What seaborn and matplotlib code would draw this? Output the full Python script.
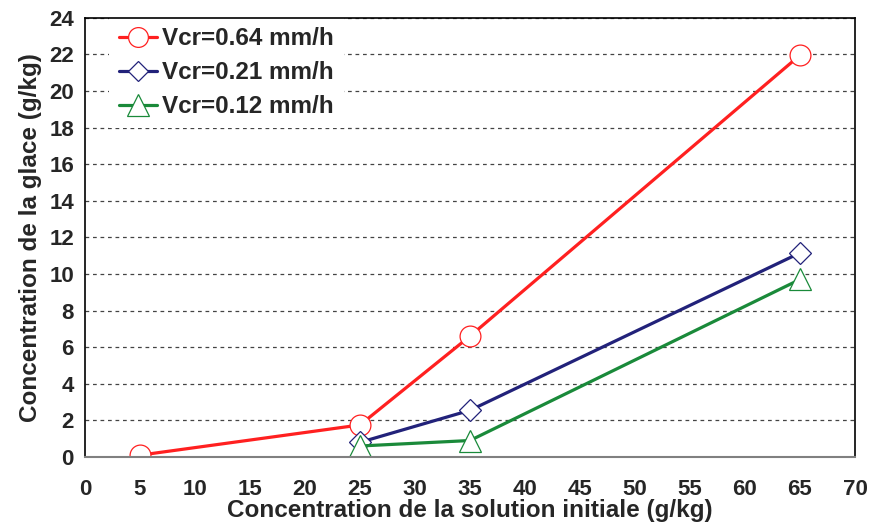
import numpy as np
import pandas as pd
import seaborn as sns
import matplotlib.pyplot as plt

# Valeurs
x_064 = [5, 25, 35, 65]
y_064 = [0.1, 1.75, 6.6, 21.95]
x_021 = [25, 35, 65]
y_021 = [0.8, 2.55, 11.15]
x_012 = [25, 35, 65]
y_012 = [0.6, 0.9, 9.7]

labels = ["Vcr=0.64 mm/h", "Vcr=0.21 mm/h", "Vcr=0.12 mm/h"]
couleurs = ["#ff2020", "#22227a", "#1a8a3a"]
marqueurs = ["o", "D", "^"]
tailles = [15, 11, 16]

sns.set_style("white")
plt.rcParams['font.family'] = ['Liberation Sans', 'DejaVu Sans']
plt.rcParams['font.weight'] = 'bold'

fig = plt.figure(figsize=(8.71, 5.28), dpi=100)
ax = fig.add_axes([0.0976, 0.1345, 0.884, 0.832])

series = [(x_064, y_064), (x_021, y_021), (x_012, y_012)]
for (xs, ys), lab, c, m, s in zip(series, labels, couleurs, marqueurs, tailles):
    df = pd.DataFrame({"x": xs, "y": ys})
    sns.lineplot(data=df, x="x", y="y", ax=ax, color=c, marker=m, markersize=s,
                 markerfacecolor="white", markeredgecolor=c, markeredgewidth=0.9,
                 linewidth=2.3, label=lab)

ax.set_xlim(0, 70)
ax.set_ylim(0, 24)
ax.set_xticks(np.arange(0, 71, 5))
ax.set_yticks(np.arange(0, 25, 2))
ax.yaxis.grid(True, linestyle=(0, (3, 3)), color="#444444", linewidth=0.9)
ax.xaxis.grid(False)

for side in ["left", "right", "top"]:
    ax.spines[side].set_color("black")
    ax.spines[side].set_linewidth(1.2)
ax.spines["bottom"].set_color("#808080")
ax.spines["bottom"].set_linewidth(1.5)
for sp in ax.spines.values():
    sp.set_zorder(6)

ax.tick_params(axis="x", direction="in", length=6, width=1, color="#555555",
               labelsize=16, pad=16)
ax.tick_params(axis="y", direction="in", length=5, width=1, labelsize=16, pad=8)
ax.tick_params(axis="y", right=False)
for t in ax.get_xticklabels() + ax.get_yticklabels():
    t.set_fontweight("bold")

ax.set_xlabel("Concentration de la solution initiale (g/kg)", fontsize=17.5,
              fontweight="bold", labelpad=-1)
ax.set_ylabel("Concentration de la glace (g/kg)", fontsize=17.5, fontweight="bold",
              labelpad=5)

leg = ax.legend(loc="upper left", bbox_to_anchor=(0.031, 1.0), borderaxespad=0,
                frameon=True, fancybox=False, edgecolor="white", framealpha=1,
                prop={"size": 17.5, "weight": "bold"}, handlelength=1.6,
                handletextpad=0.2, labelspacing=0.45, borderpad=0.4,
                markerscale=0.95)
leg.get_frame().set_linewidth(0)

fig.savefig("out.png", dpi=100)
